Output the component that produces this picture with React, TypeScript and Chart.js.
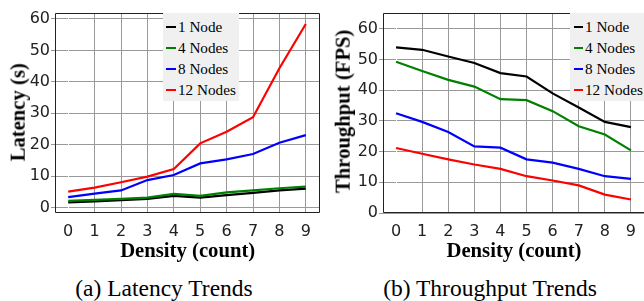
import React, { useEffect, useRef } from "react";
import { Chart, registerables } from "chart.js";

Chart.register(...registerables);

// ---- data ----
const densityLabels = ["0", "1", "2", "3", "4", "5", "6", "7", "8", "9"];
const seriesNames = ["1 Node", "4 Nodes", "8 Nodes", "12 Nodes"];
const seriesColors = ["#000000", "#008000", "#0000ff", "#ff0000"];

const latency1 = [1.6, 1.9, 2.3, 2.7, 3.7, 3.1, 3.9, 4.6, 5.4, 6.0];
const latency4 = [2.1, 2.4, 2.7, 3.1, 4.3, 3.7, 4.8, 5.4, 6.1, 6.6];
const latency8 = [3.3, 4.4, 5.4, 8.7, 10.3, 14.0, 15.3, 17.0, 20.6, 23.0];
const latency12 = [5.0, 6.3, 8.0, 9.8, 12.2, 20.4, 24.1, 28.7, 44.3, 58.4];

const throughput1 = [54.0, 53.2, 51.0, 48.9, 45.6, 44.5, 39.0, 34.4, 29.7, 28.0];
const throughput4 = [49.3, 46.3, 43.4, 41.2, 37.1, 36.8, 33.2, 28.3, 25.6, 20.4];
const throughput8 = [32.5, 29.7, 26.4, 21.7, 21.3, 17.5, 16.4, 14.4, 12.0, 11.1];
const throughput12 = [21.2, 19.3, 17.5, 15.8, 14.4, 12.0, 10.6, 9.0, 6.0, 4.4];

const yTickValues = [0, 10, 20, 30, 40, 50, 60];

const xTitle = "Density (count)";
const latencyTitle = "Latency (s)";
const throughputTitle = "Throughput (FPS)";
const captionA = "(a) Latency Trends";
const captionB = "(b) Throughput Trends";

const serif = '"Liberation Serif", "Times New Roman", serif';
const GRID = "#999999";

const framePlugin = {
  id: "frame",
  afterDatasetsDraw(chart: any) {
    const { ctx, chartArea: a } = chart;
    ctx.save();
    ctx.strokeStyle = "#222222";
    ctx.lineWidth = 1;
    ctx.beginPath();
    ctx.rect(Math.round(a.left) + 0.5, Math.round(a.top) + 0.5, Math.round(a.right - a.left), Math.round(a.bottom - a.top) - 1);
    ctx.stroke();
    ctx.restore();
  },
};

type Props = {
  series: number[][];
  yMin: number;
  yMax: number;
  yWidth: number;
  padRight: number;
  left: number;
};

function LineChart({ series, yMin, yMax, yWidth, padRight, left }: Props) {
  const ref = useRef<HTMLCanvasElement | null>(null);
  useEffect(() => {
    if (!ref.current) return;
    const n = series.length;
    const chart = new Chart(ref.current, {
      type: "line",
      data: {
        labels: densityLabels,
        datasets: series.map((vals, i) => ({
          label: seriesNames[i],
          data: vals,
          borderColor: seriesColors[i],
          backgroundColor: seriesColors[i],
          borderWidth: 2.2,
          pointRadius: 0,
          tension: 0,
          fill: false,
          order: n - 1 - i,
        })),
      },
      options: {
        responsive: false,
        maintainAspectRatio: false,
        animation: false,
        devicePixelRatio: 1,
        layout: { padding: { left: 0, right: padRight, top: 13, bottom: 0 } },
        plugins: { legend: { display: false }, tooltip: { enabled: false }, title: { display: false } },
        scales: {
          y: {
            type: "linear",
            min: yMin,
            max: yMax,
            afterFit: (s: any) => {
              s.width = yWidth;
              s.paddingTop = 0;
              s.paddingBottom = 0;
            },
            afterBuildTicks: (s: any) => {
              s.ticks = yTickValues.map((v) => ({ value: v }));
            },
            ticks: {
              font: { family: "DejaVu Sans", size: 16 },
              color: "#222222",
              padding: 1,
            },
            grid: { color: GRID, lineWidth: 1, tickLength: 4, tickColor: GRID, drawTicks: true },
            border: { display: false },
          },
          x: {
            type: "category",
            offset: true,
            afterFit: (s: any) => {
              s.height = 57;
              s.paddingLeft = 0;
              s.paddingRight = 0;
            },
            ticks: {
              font: { family: "DejaVu Sans", size: 16 },
              color: "#222222",
              padding: 9,
              maxRotation: 0,
              autoSkip: false,
            },
            grid: {
              color: (c: any) => (c.index === 0 ? "#ffffff" : GRID),
              lineWidth: 1,
              drawTicks: false,
              offset: false,
            },
            border: { display: false },
          },
        },
      } as any,
      plugins: [framePlugin],
    });
    return () => chart.destroy();
  }, []);
  return <canvas ref={ref} width={322} height={270} style={{ position: "absolute", left, top: 0, width: 322, height: 270 }} />;
}

function Legend({ left, width, padLeft, markerLen }: { left: number; width: number; padLeft: number; markerLen: number }) {
  return (
    <div
      style={{
        position: "absolute",
        left,
        top: 13,
        width,
        background: "#f0f0f0",
        padding: `3px 0 1px ${padLeft}px`,
        boxSizing: "border-box",
        fontFamily: serif,
        fontSize: "15.2px",
        color: "#000",
      }}
    >
      {seriesNames.map((name, i) => (
        <div key={name} style={{ display: "flex", alignItems: "center", height: "21.1px", lineHeight: "21.1px", whiteSpace: "nowrap" }}>
          <span style={{ display: "inline-block", width: markerLen, height: 2, background: seriesColors[i], marginRight: 2 }} />
          <span>{name}</span>
        </div>
      ))}
    </div>
  );
}

function HTitle({ text, cx, top, size, bold }: { text: string; cx: number; top: number; size: number; bold: boolean }) {
  return (
    <div
      style={{
        position: "absolute",
        left: cx - 150,
        top,
        width: 300,
        textAlign: "center",
        fontFamily: serif,
        fontSize: `${size}px`,
        lineHeight: `${size}px`,
        fontWeight: bold ? "bold" : "normal",
        color: "#000",
        whiteSpace: "nowrap",
      }}
    >
      {text}
    </div>
  );
}

function VTitle({ text, cx, cy, size }: { text: string; cx: number; cy: number; size: number }) {
  return (
    <div
      style={{
        position: "absolute",
        left: cx - 150,
        top: cy - size / 2,
        width: 300,
        height: size,
        textAlign: "center",
        fontFamily: serif,
        fontSize: `${size}px`,
        lineHeight: `${size}px`,
        fontWeight: "bold",
        color: "#000",
        whiteSpace: "nowrap",
        transform: "rotate(-90deg)",
        transformOrigin: "50% 50%",
      }}
    >
      {text}
    </div>
  );
}

export default function App() {
  return (
    <div style={{ position: "fixed", left: 0, top: 0, width: 644, height: 301, background: "#fff", overflow: "hidden" }}>
      <LineChart series={[latency1, latency4, latency8, latency12]} yMin={-1.78} yMax={61.9} yWidth={55} padRight={3} left={0} />
      <LineChart series={[throughput1, throughput4, throughput8, throughput12]} yMin={0} yMax={65.2} yWidth={61} padRight={0} left={322} />
      <Legend left={163} width={76} padLeft={3} markerLen={10} />
      <Legend left={570} width={80} padLeft={4} markerLen={9} />
      <VTitle text={latencyTitle} cx={17.5} cy={112.5} size={20.7} />
      <VTitle text={throughputTitle} cx={343.3} cy={111.5} size={20.7} />
      <HTitle text={xTitle} cx={187.7} top={240.2} size={20.7} bold={true} />
      <HTitle text={xTitle} cx={514} top={240.2} size={20.7} bold={true} />
      <HTitle text={captionA} cx={164} top={276.8} size={23.5} bold={false} />
      <HTitle text={captionB} cx={490} top={276.8} size={23.5} bold={false} />
    </div>
  );
}
